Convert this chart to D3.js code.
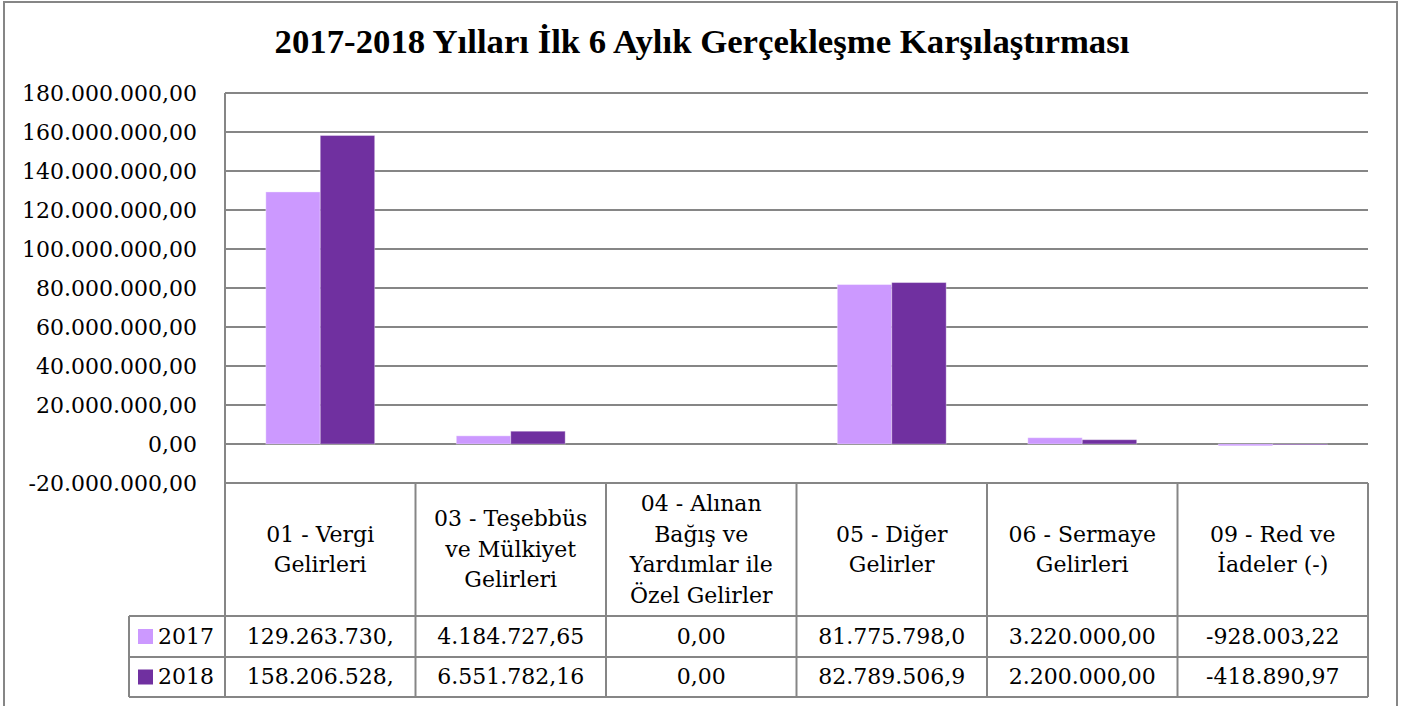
<!DOCTYPE html>
<html>
<head>
<meta charset="utf-8">
<script src="https://cdn.jsdelivr.net/npm/d3@7"></script>
<style>
  body { margin: 0; background: #fff; }
  svg { display: block; font-family: "DejaVu Serif", serif; }
</style>
</head>
<body>
<script>
// * DATA
const title = "2017-2018 Yılları İlk 6 Aylık Gerçekleşme Karşılaştırması";
const categories = [
	"01 - Vergi Gelirleri",
	"03 - Teşebbüs ve Mülkiyet Gelirleri",
	"04 - Alınan Bağış ve Yardımlar ile Özel Gelirler",
	"05 - Diğer Gelirler",
	"06 - Sermaye Gelirleri",
	"09 - Red ve İadeler (-)",
];
// how Excel wrapped the category names in the table header
const categoryLines = [
	["01 - Vergi", "Gelirleri"],
	["03 - Teşebbüs", "ve Mülkiyet", "Gelirleri"],
	["04 - Alınan", "Bağış ve", "Yardımlar ile", "Özel Gelirler"],
	["05 - Diğer", "Gelirler"],
	["06 - Sermaye", "Gelirleri"],
	["09 - Red ve", "İadeler (-)"],
];
const seriesNames = ["2017", "2018"];
const values2017 = [129263730.0, 4184727.65, 0, 81775798.0, 3220000.0, -928003.22];
const values2018 = [158206528.0, 6551782.16, 0, 82789506.9, 2200000.0, -418890.97];
// table cells as shown (cut off where the cell is too narrow)
const table2017 = ["129.263.730,", "4.184.727,65", "0,00", "81.775.798,0", "3.220.000,00", "-928.003,22"];
const table2018 = ["158.206.528,", "6.551.782,16", "0,00", "82.789.506,9", "2.200.000,00", "-418.890,97"];
const yTicks = [-20e6, 0, 20e6, 40e6, 60e6, 80e6, 100e6, 120e6, 140e6, 160e6, 180e6];
const colors = ["#CC99FF", "#7030A0"];

// * SETUP
const width = 1405, height = 706;
const plotLeft = 225, plotRight = 1368, plotTop = 93;
const legendLeft = 129;
const headerBottom = 616, row1Bottom = 657, row2Bottom = 697;
const gridColor = "#868686";

const tr = d3.formatLocale({ decimal: ",", thousands: ".", grouping: [3], currency: ["", ""], minus: "-" });
const fmt = tr.format(",.2f");

const series = seriesNames.map((name, i) => ({
	name,
	values: i === 0 ? values2017 : values2018,
	cells: i === 0 ? table2017 : table2018,
	color: colors[i],
}));

const y = d3.scaleLinear().domain([-20e6, 180e6]).range([483, plotTop]);
const x0 = d3.scaleBand().domain(categories).range([plotLeft, plotRight]);
const x1 = d3.scaleBand().domain(seriesNames).range([0, x0.bandwidth()]).paddingInner(0).paddingOuter(0.75);

const svg = d3.select("body").append("svg")
	.attr("width", width)
	.attr("height", height)
	.attr("viewBox", [0, 0, width, height]);

svg.append("rect").attr("width", width).attr("height", height).attr("fill", "#fff");

// outer chart border
svg.append("rect")
	.attr("x", 4).attr("y", 2)
	.attr("width", 1393).attr("height", 730)
	.attr("fill", "none")
	.attr("stroke", gridColor)
	.attr("stroke-width", 2);

// * TITLE
const titleText = svg.append("text")
	.attr("x", 702)
	.attr("y", 53)
	.attr("text-anchor", "middle")
	.attr("font-family", "Liberation Serif")
	.attr("font-weight", "bold")
	.attr("font-size", 30)
	.attr("fill", "#000")
	.text(title);
// fit title to the reference width
const tw = titleText.node().getComputedTextLength();
titleText.attr("font-size", 30 * 855 / tw);

// * GRID
svg.append("g")
	.selectAll("line")
	.data(yTicks)
	.join("line")
	.attr("x1", plotLeft).attr("x2", plotRight)
	.attr("y1", (d) => y(d)).attr("y2", (d) => y(d))
	.attr("stroke", gridColor)
	.attr("stroke-width", 2);

// * Y AXIS LABELS
svg.append("g")
	.attr("transform", `translate(${plotLeft},0)`)
	.call(d3.axisLeft(y).tickValues(yTicks).tickFormat(fmt)
		.tickSize(0).tickPadding(28))
	.call((g) => g.select(".domain").remove())
	.call((g) => g.selectAll(".tick line").remove())
	.call((g) => g.selectAll(".tick text")
		.attr("font-family", "DejaVu Serif")
		.attr("font-size", 22)
		.attr("fill", "#000")
		.attr("dy", "0.34em"));

// * BARS
svg.append("g")
	.selectAll("g")
	.data(series)
	.join("g")
	.attr("fill", (d) => d.color)
	.selectAll("rect")
	.data((s) => s.values.map((v, i) => ({ s, v, c: categories[i] })))
	.join("rect")
	.attr("x", (d) => x0(d.c) + x1(d.s.name))
	.attr("width", x1.bandwidth())
	.attr("y", (d) => y(Math.max(0, d.v)))
	.attr("height", (d) => Math.abs(y(d.v) - y(0)))
	.attr("stroke", "#fff")
	.attr("stroke-opacity", 0.35)
	.attr("stroke-width", 1);

// * DATA TABLE
const lines = svg.append("g")
	.attr("stroke", gridColor)
	.attr("stroke-width", 2)
	.attr("fill", "none");

// left axis line runs through the table
lines.append("line")
	.attr("x1", plotLeft).attr("x2", plotLeft)
	.attr("y1", plotTop).attr("y2", row2Bottom);

// column separators
lines.selectAll("line.col")
	.data(categories)
	.join("line")
	.attr("class", "col")
	.attr("x1", (d) => x0(d) + x0.bandwidth())
	.attr("x2", (d) => x0(d) + x0.bandwidth())
	.attr("y1", y(-20e6))
	.attr("y2", row2Bottom);

// row separators
lines.selectAll("line.row")
	.data([headerBottom, row1Bottom, row2Bottom])
	.join("line")
	.attr("class", "row")
	.attr("x1", legendLeft).attr("x2", plotRight)
	.attr("y1", (d) => d).attr("y2", (d) => d);

lines.append("line")
	.attr("x1", legendLeft).attr("x2", legendLeft)
	.attr("y1", headerBottom).attr("y2", row2Bottom);

// header labels
const headerMid = (y(-20e6) + headerBottom) / 2;
const lineGap = 30.5;
svg.append("g")
	.attr("font-size", 22)
	.attr("text-anchor", "middle")
	.attr("fill", "#000")
	.selectAll("text")
	.data(categories)
	.join("text")
	.attr("x", (d) => x0(d) + x0.bandwidth() / 2)
	.each(function (d, i) {
		const ls = categoryLines[i];
		d3.select(this).selectAll("tspan")
			.data(ls)
			.join("tspan")
			.attr("x", x0(d) + x0.bandwidth() / 2)
			.attr("y", (l, j) => headerMid + (j - (ls.length - 1) / 2) * lineGap)
			.attr("dy", "0.34em")
			.text((l) => l);
	});

// value rows + legend keys
const rowTops = [headerBottom, row1Bottom];
series.forEach((s, si) => {
	const mid = (rowTops[si] + (si === 0 ? row1Bottom : row2Bottom)) / 2;
	const row = svg.append("g").attr("font-size", 22).attr("fill", "#000");
	row.selectAll("text")
		.data(s.cells)
		.join("text")
		.attr("x", (d, i) => x0(categories[i]) + x0.bandwidth() / 2)
		.attr("y", mid)
		.attr("dy", "0.34em")
		.attr("text-anchor", "middle")
		.text((d) => d);
	row.append("rect")
		.attr("x", 138).attr("y", mid - 7.5)
		.attr("width", 15).attr("height", 15)
		.attr("fill", s.color);
	row.append("text")
		.attr("x", 158).attr("y", mid)
		.attr("dy", "0.34em")
		.text(s.name);
});
</script>
</body>
</html>
